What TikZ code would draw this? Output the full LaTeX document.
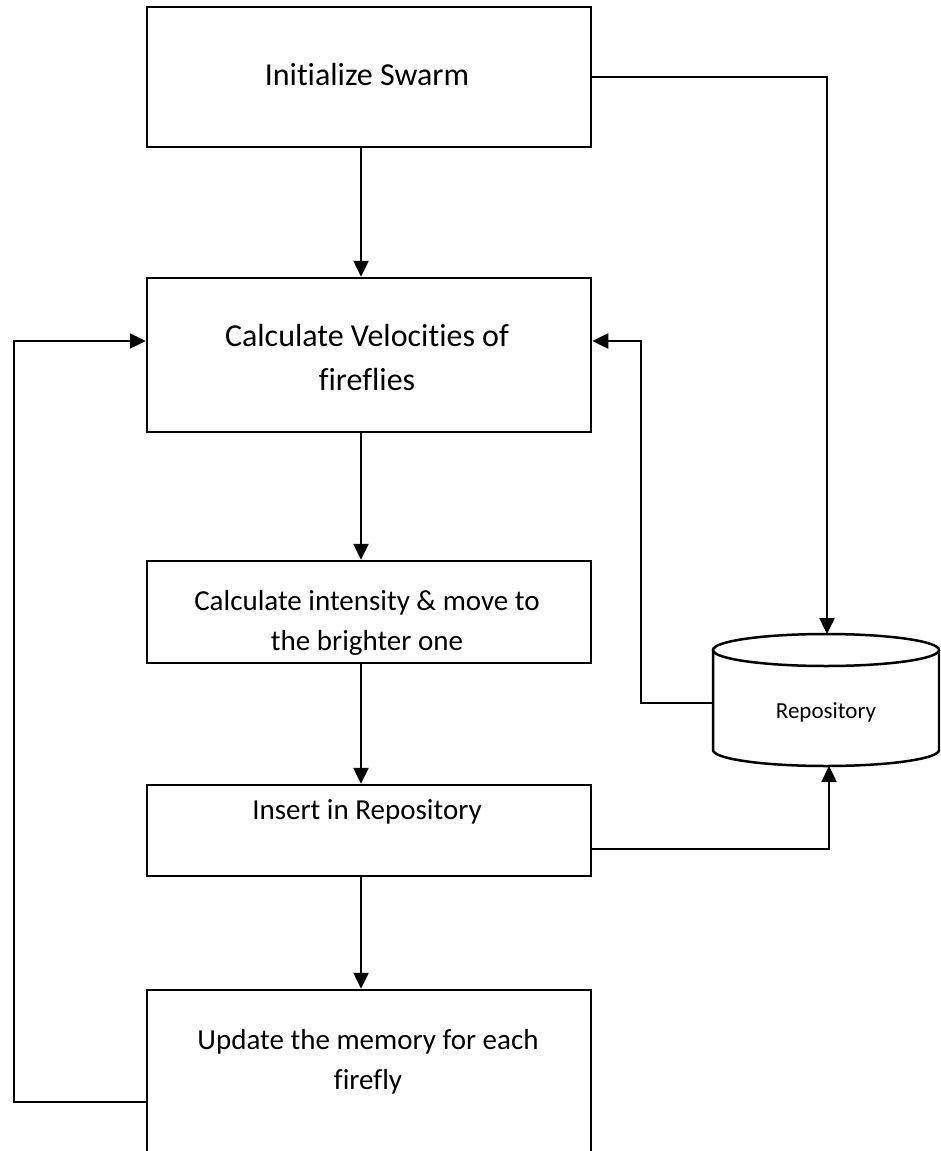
\documentclass[tikz,border=0pt]{standalone}
\usepackage{fontspec}
\setmainfont{Carlito}[Ligatures={NoCommon}]
\usetikzlibrary{arrows.meta}
\begin{document}
\begin{tikzpicture}[x=1pt,y=-1pt,
  box/.style={draw, line width=2.5pt, minimum width=444pt, inner sep=0pt},
  lblbig/.style={font=\fontsize{32}{44}\selectfont, align=center, inner sep=0pt},
  lblsmall/.style={font=\fontsize{29}{40}\selectfont, align=center, inner sep=0pt},
  wire/.style={line width=2.5pt},
  flow/.style={line width=2.5pt, -{Triangle[length=16pt,width=15pt]}}]
\clip (0,0) rectangle (940,1151);
\fill[white] (0,0) rectangle (940,1151);

% process boxes
\node[box, minimum height=140pt] (init)   at (369,77)     {};
\node[box, minimum height=154pt] (vel)    at (369,355)    {};
\node[box, minimum height=102pt] (move)   at (369,612)    {};
\node[box, minimum height=91pt]  (insert) at (369,830.5)  {};
\node[box, minimum height=175pt] (update) at (369,1077.5) {};

% box captions
\node[lblbig]   (initT)   at (367,75)   {Initialize Swarm};
\node[lblbig]   (velT)    at (367,358)  {Calculate Velocities of\\fireflies};
\node[lblsmall] (moveT)   at (367,623)  {Calculate intensity \& move to\\the brighter one};
\node[lblsmall] (insertT) at (367,812)  {Insert in Repository};
\node[lblsmall] (updateT) at (368,1062) {Update the memory for each\\firefly};

% repository drum
\draw[wire, fill=white] (713,650) -- (713,750)
  arc[start angle=180, end angle=360, x radius=113pt, y radius=16pt] -- (939,650);
\draw[wire] (826,650) ellipse [x radius=113pt, y radius=16pt];
\node[font=\fontsize{23}{28}\selectfont, inner sep=0pt] (repo) at (826,712) {Repository};
\coordinate (repoTop)  at (827,634);
\coordinate (repoBot)  at (829,766);
\coordinate (repoLeft) at (713,703);

% routing points
\coordinate (spine)   at (361,0);
\coordinate (retR)    at (641,341);
\coordinate (loopL)   at (14,341);
\coordinate (loopLow) at (14,1102);
\coordinate (insOut)  at (0,849);

% main chain
\draw[flow] (init.south -| spine)   -- (vel.north -| spine);
\draw[flow] (vel.south -| spine)    -- (move.north -| spine);
\draw[flow] (move.south -| spine)   -- (insert.north -| spine);
\draw[flow] (insert.south -| spine) -- (update.north -| spine);

% repository links
\draw[flow] (init.east) -| (repoTop);
\draw[flow] (insert.east |- insOut) -| (repoBot);
\draw[flow] (repoLeft) -| (retR) -- (retR -| vel.east);

% iteration loop
\draw[flow] (update.west |- loopLow) -| (loopL) -- (loopL -| vel.west);
\end{tikzpicture}
\end{document}
